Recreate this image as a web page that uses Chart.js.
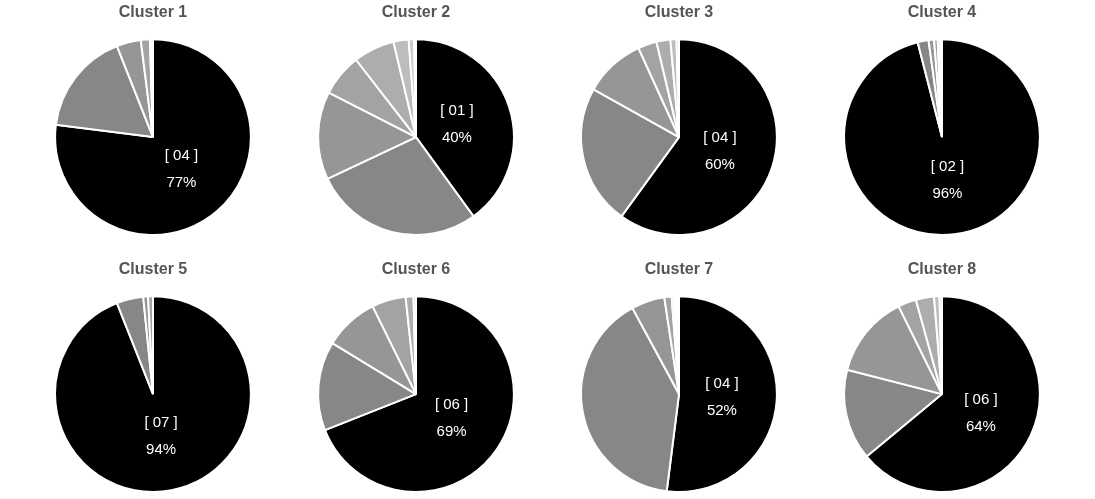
<!DOCTYPE html>
<html>
<head>
<meta charset="utf-8">
<script src="https://cdn.jsdelivr.net/npm/chart.js@4/dist/chart.umd.min.js"></script>
<style>
    body { margin: 0; background: #fff; width: 1095px; height: 499px; position: relative; overflow: hidden; }
    .cell { position: absolute; width: 262px; height: 236px; }
</style>
</head>
<body>
<div id="container"></div>
<script>
// slice shares per cluster, biggest (black) slice first, clockwise from 12 o'clock
const cluster1 = [77, 17, 4, 1.5, 0.3, 0.2];
const cluster2 = [40, 28, 14.5, 7, 6.8, 2.5, 0.9, 0.3];
const cluster3 = [60, 23.1, 10.1, 3.1, 2.3, 1, 0.4];
const cluster4 = [96, 1.8, 0.9, 0.6, 0.4, 0.3];
const cluster5 = [94, 4.4, 0.8, 0.8];
const cluster6 = [69, 14.7, 9, 5.6, 1.3, 0.4];
const cluster7 = [52, 40.1, 5.5, 1.2, 0.4, 0.3, 0.3, 0.2];
const cluster8 = [64, 15, 13.7, 3, 3, 0.9, 0.4];

const titles = ["Cluster 1", "Cluster 2", "Cluster 3", "Cluster 4",
                "Cluster 5", "Cluster 6", "Cluster 7", "Cluster 8"];
const topIds = ["04", "01", "04", "02", "07", "06", "04", "06"];

const greys = ["#000000", "#878787", "#969696", "#a3a3a3", "#adadad",
               "#bdbdbd", "#cccccc", "#dadada", "#e6e6e6"];

const allData = [cluster1, cluster2, cluster3, cluster4,
                 cluster5, cluster6, cluster7, cluster8];

Chart.defaults.font.family = 'Arial, "Liberation Sans", sans-serif';

// writes "[ id ]" and the share inside the black slice
const sliceLabel = {
    id: "sliceLabel",
    afterDatasetsDraw(chart) {
        const arc = chart.getDatasetMeta(0).data[0];
        const vals = chart.data.datasets[0].data;
        let total = 0;
        vals.forEach(v => total += v);
        const pct = Math.round(vals[0] / total * 100);
        const mid = (arc.startAngle + arc.endAngle) / 2;
        const x = arc.x + Math.cos(mid) * 43;
        const y = arc.y + Math.sin(mid) * 43;
        const ctx = chart.ctx;
        ctx.save();
        ctx.fillStyle = "#ffffff";
        ctx.font = '15px Arial, "Liberation Sans", sans-serif';
        ctx.textAlign = "center";
        ctx.textBaseline = "middle";
        ctx.fillText("[ " + chart.options.plugins.sliceLabel.id + " ]", x, y - 13);
        ctx.fillText(pct + "%", x, y + 14);
        ctx.restore();
    }
};

let div_container = document.getElementById("container");

for (let i = 0; i < allData.length; i++) {
    let cell = document.createElement("div");
    cell.className = "cell";
    cell.style.left = (22 + (i % 4) * 263) + "px";
    cell.style.top = (Math.floor(i / 4) * 257) + "px";
    let canvas = document.createElement("canvas");
    canvas.width = 262;
    canvas.height = 236;
    cell.appendChild(canvas);
    div_container.appendChild(cell);

    new Chart(canvas.getContext("2d"), {
        type: "pie",
        data: {
            labels: allData[i].map((v, k) => "slice " + (k + 1)),
            datasets: [{
                data: allData[i],
                backgroundColor: greys.slice(0, allData[i].length),
                borderColor: "#fff",
                borderWidth: 2
            }]
        },
        options: {
            responsive: false,
            animation: false,
            layout: { padding: 0 },
            plugins: {
                legend: { display: false },
                tooltip: { enabled: false },
                title: {
                    display: true,
                    text: titles[i],
                    color: "#555555",
                    font: { size: 16, weight: "bold" },
                    padding: { top: 3, bottom: 16 }
                },
                sliceLabel: { id: topIds[i] }
            }
        },
        plugins: [sliceLabel]
    });
}
</script>
</body>
</html>
